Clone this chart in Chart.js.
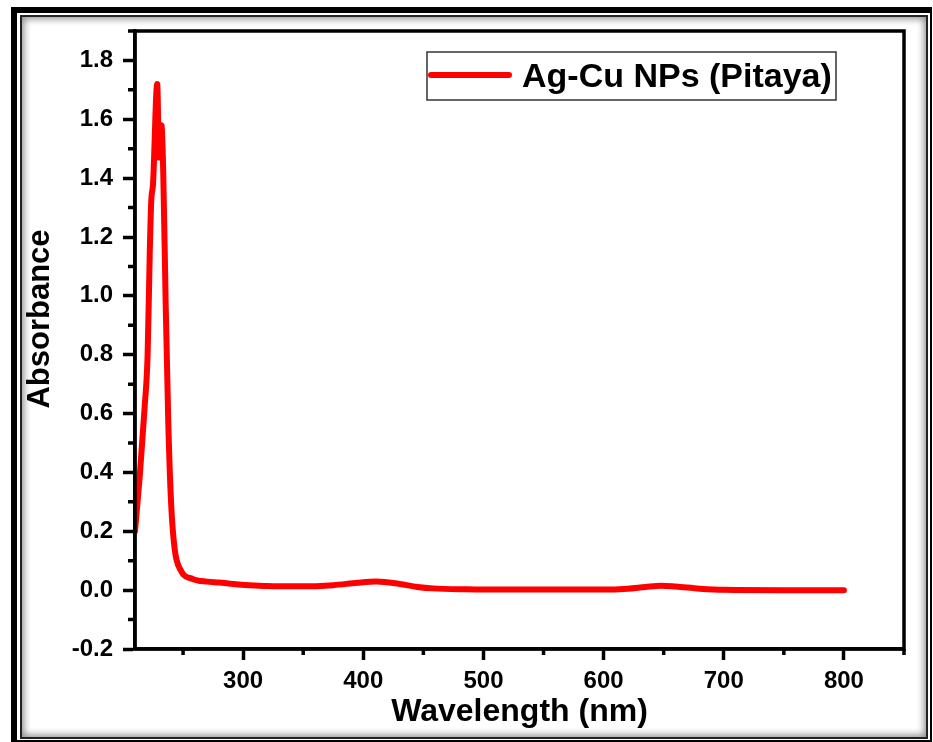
<!DOCTYPE html>
<html>
<head>
<meta charset="utf-8">
<title>Ag-Cu NPs (Pitaya) - UV-Vis</title>
<script src="https://cdn.jsdelivr.net/npm/chart.js@4.4.0/dist/chart.umd.min.js"></script>
<style>
    body { margin: 0; background: #fff; }
    #wrap { position: relative; width: 933px; height: 742px; overflow: hidden; }
    .frame-outer {
        position: absolute; left: 11px; top: 7px; width: 921px; height: 735px;
        box-sizing: border-box; border-style: solid; border-color: #000;
        border-width: 6px 2px 2px 6px;
    }
    .frame-inner {
        position: absolute; left: 20px; top: 15px; width: 908px; height: 724px;
        box-sizing: border-box; border: 2px solid #222;
        box-shadow: inset 0 0 7px 2px rgba(0, 0, 0, 0.45);
    }
    #spectrum { position: absolute; left: 0; top: 0; }
</style>
</head>
<body>
<div id="wrap">
    <div class="frame-outer"></div>
    <div class="frame-inner"></div>
    <canvas id="spectrum" width="933" height="742"></canvas>
</div>
<script>
var seriesName = 'Ag-Cu NPs (Pitaya)';
var wavelength = [210, 214, 218, 220.5, 222.3, 223.5, 225, 228.5, 230, 232, 233.5, 235.5, 237.7, 240, 243, 248,
    258, 270, 280, 292, 305, 320, 347, 375, 395, 411, 430, 445, 458, 486, 520, 560, 600, 620, 635, 648, 660,
    680, 700, 750, 800];
var absorbance = [0.20, 0.39, 0.62, 0.80, 1.15, 1.32, 1.38, 1.72, 1.47, 1.58, 1.42, 0.98, 0.57, 0.30, 0.14, 0.068,
    0.038, 0.029, 0.026, 0.021, 0.017, 0.014, 0.013, 0.017, 0.025, 0.029, 0.021, 0.011, 0.006, 0.003, 0.002, 0.002,
    0.002, 0.005, 0.011, 0.015, 0.012, 0.005, 0.001, 0.000, 0.000];
var xTicks = [300, 400, 500, 600, 700, 800];
var yTicks = [-0.2, 0.0, 0.2, 0.4, 0.6, 0.8, 1.0, 1.2, 1.4, 1.6, 1.8];

var FONT = "'Liberation Sans', Arial, sans-serif";

// half-way ticks between the labelled ones, kept inside the axis range
function minorTicks(major, min, max) {
    var step = major[1] - major[0];
    var out = [];
    for (var i = -1; i < major.length; i++) {
        var v = (i < 0 ? major[0] : major[i]) + (i < 0 ? -step / 2 : step / 2);
        if (v >= min - 1e-9 && v <= max + 1e-9) out.push(v);
    }
    return out;
}

// closed box round the plot + short minor ticks on the two axes
var framePlugin = {
    id: 'frame',
    afterDatasetsDraw: function(chart) {
        var ctx = chart.ctx, a = chart.chartArea;
        var xs = chart.scales.x, ys = chart.scales.y;
        ctx.save();
        ctx.strokeStyle = '#000';
        ctx.lineWidth = 3.5;
        ctx.strokeRect(a.left, a.top, a.right - a.left, a.bottom - a.top);
        ctx.beginPath();
        minorTicks(xTicks, xs.min, xs.max).forEach(function(v) {
            var px = xs.getPixelForValue(v);
            ctx.moveTo(px, a.bottom);
            ctx.lineTo(px, a.bottom + 6);
        });
        minorTicks(yTicks, ys.min, ys.max).forEach(function(v) {
            var py = ys.getPixelForValue(v);
            ctx.moveTo(a.left, py);
            ctx.lineTo(a.left - 7, py);
        });
        ctx.stroke();
        ctx.restore();
    }
};

// y title sits a bit above the middle of the axis
var yTitlePlugin = {
    id: 'yTitle',
    afterDraw: function(chart) {
        var ctx = chart.ctx;
        ctx.save();
        ctx.translate(40, 319);
        ctx.rotate(-Math.PI / 2);
        ctx.font = 'bold 31px ' + FONT;
        ctx.fillStyle = '#000';
        ctx.textAlign = 'center';
        ctx.textBaseline = 'middle';
        ctx.fillText('Absorbance', 0, 0);
        ctx.restore();
    }
};

// boxed legend in the upper right of the plot
var legendBoxPlugin = {
    id: 'legendBox',
    afterDraw: function(chart) {
        var ctx = chart.ctx;
        var ds = chart.data.datasets[0];
        var left = 427, top = 52, right = 836, bottom = 100;
        var midY = (top + bottom) / 2 - 1;
        ctx.save();
        ctx.fillStyle = '#fff';
        ctx.fillRect(left, top, right - left, bottom - top);
        ctx.strokeStyle = '#333';
        ctx.lineWidth = 1.5;
        ctx.strokeRect(left, top, right - left, bottom - top);
        ctx.strokeStyle = ds.borderColor;
        ctx.lineWidth = 6;
        ctx.lineCap = 'round';
        ctx.beginPath();
        ctx.moveTo(left + 4, midY);
        ctx.lineTo(left + 82, midY);
        ctx.stroke();
        ctx.font = 'bold 34px ' + FONT;
        ctx.fillStyle = '#000';
        ctx.textBaseline = 'alphabetic';
        ctx.fillText(ds.label, left + 95, 87);
        ctx.restore();
    }
};

function load_chart() {
    var points = [];
    for (var i = 0; i < wavelength.length; i++) {
        points.push({ x: wavelength[i], y: absorbance[i] });
    }

    var ctx = document.getElementById('spectrum').getContext('2d');
    var spectrumChart = new Chart(ctx, {
        type: 'line',
        data: {
            datasets: [{
                label: seriesName,
                data: points,
                borderColor: '#ff0000',
                borderWidth: 6,
                borderCapStyle: 'round',
                borderJoinStyle: 'round',
                pointRadius: 0,
                fill: false,
                cubicInterpolationMode: 'monotone'
            }]
        },
        options: {
            responsive: false,
            animation: false,
            layout: { padding: { top: 31, right: 29, left: 0, bottom: 0 } },
            plugins: {
                legend: { display: false },
                tooltip: { enabled: false }
            },
            scales: {
                x: {
                    type: 'linear',
                    min: 210,
                    max: 850,
                    afterBuildTicks: function(scale) {
                        scale.ticks = xTicks.map(function(v) { return { value: v }; });
                    },
                    afterFit: function(scale) { scale.height = 93; },
                    ticks: {
                        autoSkip: false,
                        maxRotation: 0,
                        padding: 7,
                        color: '#000',
                        font: { family: FONT, size: 24, weight: 'bold' },
                        callback: function(v) { return v; }
                    },
                    grid: {
                        drawOnChartArea: false,
                        tickLength: 11,
                        tickWidth: 3.5,
                        tickColor: '#000'
                    },
                    border: { display: true, color: '#000', width: 3.5 },
                    title: {
                        display: true,
                        text: 'Wavelength (nm)',
                        color: '#000',
                        font: { family: FONT, size: 32, weight: 'bold' },
                        padding: { top: 0, bottom: 11 }
                    }
                },
                y: {
                    type: 'linear',
                    min: -0.2,
                    max: 1.9,
                    afterBuildTicks: function(scale) {
                        scale.ticks = yTicks.map(function(v) { return { value: v }; });
                    },
                    afterFit: function(scale) { scale.width = 135; },
                    ticks: {
                        autoSkip: false,
                        padding: 10,
                        color: '#000',
                        font: { family: FONT, size: 24, weight: 'bold' },
                        callback: function(v) { return v.toFixed(1); }
                    },
                    grid: {
                        drawOnChartArea: false,
                        tickLength: 12,
                        tickWidth: 3.5,
                        tickColor: '#000'
                    },
                    border: { display: true, color: '#000', width: 3.5 }
                }
            }
        },
        plugins: [framePlugin, yTitlePlugin, legendBoxPlugin]
    });
}

window.onload = function() {
    load_chart();
};
</script>
</body>
</html>
